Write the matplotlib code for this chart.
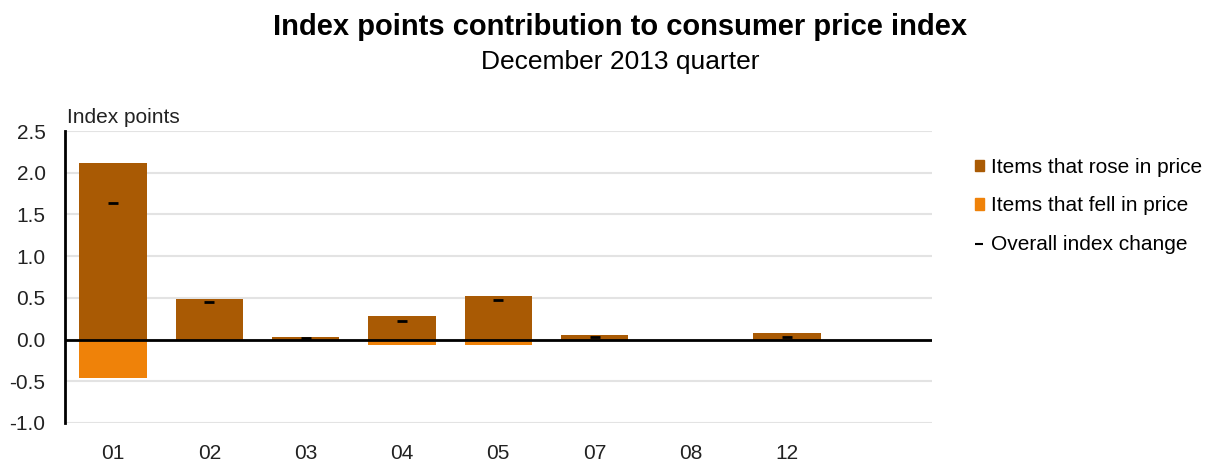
import matplotlib.pyplot as plt
import numpy as np
from matplotlib.patches import Patch
from matplotlib.lines import Line2D

plt.rcParams['font.family'] = ['Liberation Sans', 'DejaVu Sans']

# Data (index points)
categories = ['01', '02', '03', '04', '05', '07', '08', '12', '']
rose = [2.12, 0.49, 0.03, 0.28, 0.52, 0.06, 0.0, 0.08, 0.0]
fell = [-0.46, -0.01, 0.0, -0.06, -0.06, -0.01, 0.0, 0.0, 0.0]
overall = [1.64, 0.45, 0.02, 0.22, 0.47, 0.03, 0.0, 0.03, np.nan]

rose_col = '#A95A04'
fell_col = '#EF8209'

fig = plt.figure(figsize=(12.13, 4.63), dpi=100)
ax = fig.add_axes([0.0536, 0.0864, 0.7144, 0.6306])

x = np.arange(len(categories))
ax.bar(x, rose, width=0.7, color=rose_col, zorder=2)
ax.bar(x, fell, width=0.7, color=fell_col, zorder=2)
ax.axhline(0, color='black', lw=2, zorder=3)
# overall change markers (skip empty slots)
mask = ~np.isnan(overall) & (np.arange(len(categories)) != 6)
ax.scatter(x[mask], np.array(overall)[mask], marker='_', s=60, color='black',
           linewidths=2, zorder=4)

ax.set_xlim(-0.5, 8.5)
ax.set_ylim(-1.0, 2.5)
ax.set_yticks(np.arange(-1.0, 2.51, 0.5))
ax.set_yticklabels([f'{v:.1f}' for v in np.arange(-1.0, 2.51, 0.5)])
ax.set_xticks(x[:8])
ax.set_xticklabels(categories[:8])
ax.tick_params(axis='both', length=0, labelsize=15, colors='#222222')
ax.tick_params(axis='x', pad=15)
ax.tick_params(axis='y', pad=14)
ax.grid(axis='y', color='#e3e3e3', lw=1.5, zorder=0)
for s in ['top', 'right', 'bottom']:
    ax.spines[s].set_visible(False)
ax.spines['left'].set_linewidth(2)
ax.spines['left'].set_zorder(5)

fig.text(0.055, 0.735, 'Index points', fontsize=15, color='#222222')
fig.text(0.511, 0.925, 'Index points contribution to consumer price index',
         ha='center', fontsize=21, fontweight='bold')
fig.text(0.511, 0.85, 'December 2013 quarter', ha='center', fontsize=19)

handles = [
    Patch(color=rose_col, label='Items that rose in price'),
    Patch(color=fell_col, label='Items that fell in price'),
    Line2D([], [], color='black', marker='_', ls='none', markersize=6,
           markeredgewidth=1.5, label='Overall index change'),
]
fig.legend(handles=handles, loc='upper left', bbox_to_anchor=(0.788, 0.70),
           frameon=False, fontsize=15, handlelength=0.45, handleheight=0.45,
           handletextpad=0.35, labelspacing=0.95)

fig.savefig('out.png', dpi=100)
